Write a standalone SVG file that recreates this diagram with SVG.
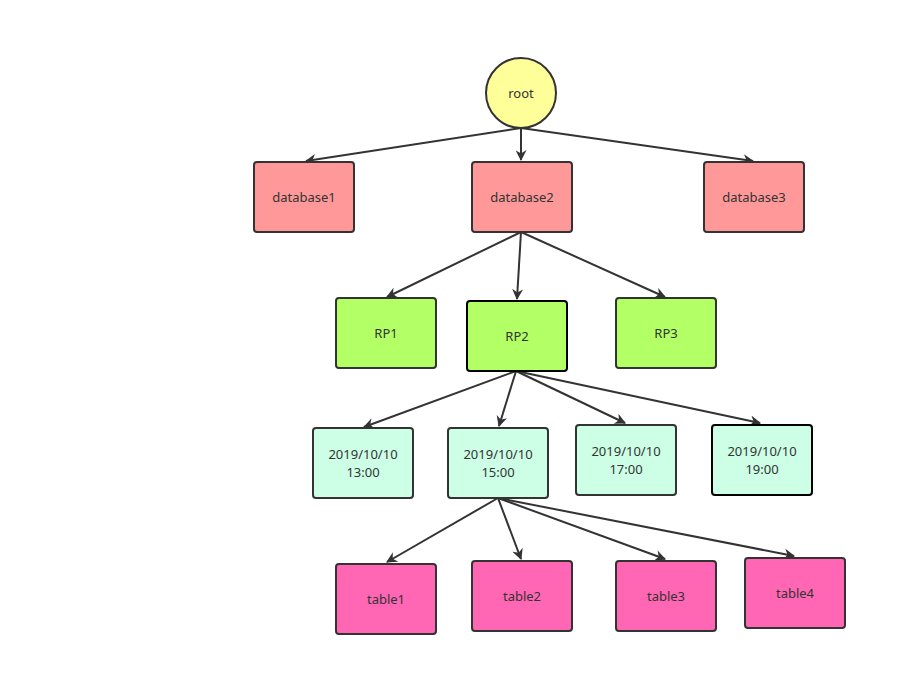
<svg xmlns="http://www.w3.org/2000/svg" width="907" height="696" viewBox="0 0 907 696">
<defs>
<style>
.n{stroke:#333;stroke-width:2}
.b{stroke:#000;stroke-width:2}
.db{fill:#FF9999}.rp{fill:#B3FF66}.tm{fill:#CCFFE6}.tb{fill:#FF66B3}.rt{fill:#FFFF99}
text{font-family:"Noto Sans","DejaVu Sans",sans-serif;font-size:13px;fill:#333;text-anchor:middle}
.e{stroke:#333;stroke-width:2;fill:none;marker-end:url(#a)}
</style>
<marker id="a" viewBox="0 0 10 10" refX="9" refY="5" markerWidth="12" markerHeight="11" orient="auto" markerUnits="userSpaceOnUse">
<path d="M0,0 L10,5 L0,10 L3,5 Z" fill="#333"/>
</marker>
</defs>
<rect width="907" height="696" fill="#fff"/>
<g id="connectors">
<line class="e" x1="521" y1="128" x2="306" y2="161"/>
<line class="e" x1="521" y1="128" x2="521" y2="160"/>
<line class="e" x1="521" y1="128" x2="753" y2="161"/>
<line class="e" x1="521" y1="232" x2="387" y2="297"/>
<line class="e" x1="521" y1="232" x2="517" y2="299"/>
<line class="e" x1="521" y1="232" x2="665" y2="297"/>
<line class="e" x1="516" y1="371" x2="364" y2="427"/>
<line class="e" x1="516" y1="371" x2="499" y2="426"/>
<line class="e" x1="516" y1="371" x2="625" y2="423"/>
<line class="e" x1="516" y1="371" x2="760" y2="423"/>
<line class="e" x1="498" y1="498" x2="387" y2="562"/>
<line class="e" x1="498" y1="498" x2="521" y2="559"/>
<line class="e" x1="498" y1="498" x2="665" y2="559"/>
<line class="e" x1="498" y1="498" x2="794" y2="556"/>
</g>
<g id="root"><circle class="n rt" cx="521" cy="93" r="35"/><text x="521" y="98">root</text></g>
<g id="database1"><rect class="n db" x="254" y="162" width="100" height="70" rx="3"/><text x="304" y="202">database1</text></g>
<g id="database2"><rect class="n db" x="472" y="162" width="100" height="70" rx="3"/><text x="522" y="202">database2</text></g>
<g id="database3"><rect class="n db" x="704" y="162" width="100" height="70" rx="3"/><text x="754" y="202">database3</text></g>
<g id="RP1"><rect class="n rp" x="336" y="298" width="100" height="70" rx="3"/><text x="386" y="338">RP1</text></g>
<g id="RP2"><rect class="b rp" x="467" y="301" width="100" height="70" rx="3"/><text x="517" y="341">RP2</text></g>
<g id="RP3"><rect class="n rp" x="616" y="298" width="100" height="70" rx="3"/><text x="666" y="338">RP3</text></g>
<g id="t1300"><rect class="n tm" x="313" y="428" width="100" height="70" rx="3"/><text x="363" y="459">2019/10/10</text><text x="363" y="477">13:00</text></g>
<g id="t1500"><rect class="n tm" x="448" y="428" width="100" height="70" rx="3"/><text x="498" y="459">2019/10/10</text><text x="498" y="477">15:00</text></g>
<g id="t1700"><rect class="n tm" x="576" y="425" width="100" height="70" rx="3"/><text x="626" y="456">2019/10/10</text><text x="626" y="474">17:00</text></g>
<g id="t1900"><rect class="b tm" x="712" y="425" width="100" height="70" rx="3"/><text x="762" y="456">2019/10/10</text><text x="762" y="474">19:00</text></g>
<g id="table1"><rect class="n tb" x="336" y="564" width="100" height="70" rx="3"/><text x="386" y="604">table1</text></g>
<g id="table2"><rect class="n tb" x="472" y="561" width="100" height="70" rx="3"/><text x="522" y="601">table2</text></g>
<g id="table3"><rect class="n tb" x="616" y="561" width="100" height="70" rx="3"/><text x="666" y="601">table3</text></g>
<g id="table4"><rect class="n tb" x="745" y="558" width="100" height="70" rx="3"/><text x="795" y="598">table4</text></g>
</svg>
